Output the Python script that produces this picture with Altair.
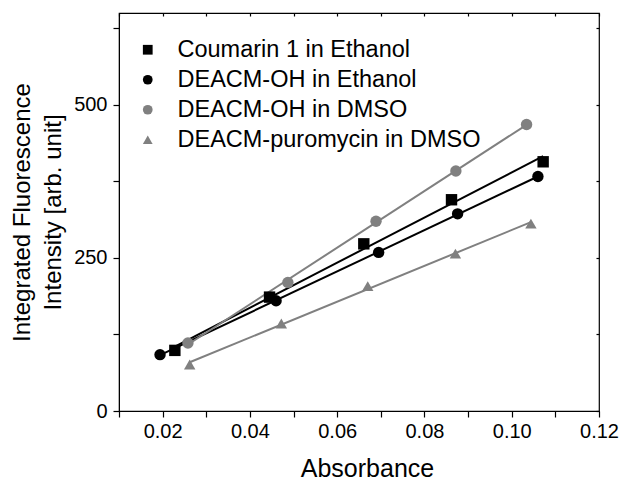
import altair as alt
import pandas as pd

series_names = ["Coumarin 1 in Ethanol", "DEACM-OH in Ethanol",
                "DEACM-OH in DMSO", "DEACM-puromycin in DMSO"]

coumarin_x = [0.0228, 0.0445, 0.0661, 0.0862, 0.1072]
coumarin_y = [99, 186, 273, 345, 407]
deacm_eth_x = [0.0194, 0.0460, 0.0695, 0.0876, 0.1060]
deacm_eth_y = [92, 180, 259, 322, 383]
deacm_dmso_x = [0.0258, 0.0487, 0.0689, 0.0872, 0.1034]
deacm_dmso_y = [111, 210, 310, 392, 468]
puro_x = [0.0262, 0.0472, 0.0670, 0.0871, 0.1044]
puro_y = [76, 143, 204, 257, 306]

x_ticks = [0.01, 0.02, 0.03, 0.04, 0.05, 0.06, 0.07, 0.08, 0.09, 0.10, 0.11, 0.12]
y_ticks = [0, 125, 250, 375, 500, 625]

rows = []
for name, xs, ys in zip(series_names,
                        [coumarin_x, deacm_eth_x, deacm_dmso_x, puro_x],
                        [coumarin_y, deacm_eth_y, deacm_dmso_y, puro_y]):
    for a, b in zip(xs, ys):
        rows.append({"series": name, "x": a, "y": b})
df = pd.DataFrame(rows)

FONT = "Liberation Sans"
colors = ["#000000", "#000000", "#808080", "#808080"]
shapes = ["square", "circle", "circle", "triangle-up"]

xscale = alt.Scale(domain=[0.01, 0.12], nice=False, zero=False)
yscale = alt.Scale(domain=[0, 650], nice=False)

xaxis = alt.Axis(values=x_ticks, format=".2f",
                 labelExpr="(round(datum.value*100) % 2 == 0) ? datum.label : ''",
                 labelFontSize=20, labelFont=FONT, labelColor="black",
                 title="Absorbance", titleFontSize=25, titleFont=FONT,
                 titleFontWeight="normal", titleColor="black", titlePadding=15,
                 titleX=248,
                 tickSize=6, tickColor="black", tickWidth=1.2,
                 domainColor="black", grid=False, labelPadding=4,
                 labelFlush=False)
yaxis = alt.Axis(values=y_ticks,
                 labelExpr="(datum.value % 250 == 0) ? datum.label : ''",
                 labelFontSize=20, labelFont=FONT, labelColor="black",
                 title=["Integrated Fluorescence", "Intensity [arb. unit]"],
                 titleFontSize=24, titleFont=FONT, titleFontWeight="normal",
                 titleColor="black", titlePadding=8, titleLineHeight=31,
                 tickSize=6, tickColor="black", tickWidth=1.2,
                 domainColor="black", grid=False, labelPadding=6,
                 labelFlush=False)

legend = alt.Legend(title=None, orient="none", legendX=17, legendY=25,
                    labelFontSize=23.5, labelFont=FONT, labelColor="black",
                    labelLimit=0,
                    symbolSize=95, labelOffset=18, rowPadding=5,
                    symbolStrokeWidth=0, symbolOpacity=1)
color_enc = alt.Color("series:N", scale=alt.Scale(domain=series_names, range=colors),
                      legend=legend)
shape_enc = alt.Shape("series:N", scale=alt.Scale(domain=series_names, range=shapes),
                      legend=legend)

base = alt.Chart(df)

fit = base.transform_regression("x", "y", groupby=["series"]).mark_line(strokeWidth=2).encode(
    x=alt.X("x:Q", scale=xscale, axis=xaxis),
    y=alt.Y("y:Q", scale=yscale, axis=yaxis),
    color=color_enc,
    detail="series:N",
)

pts = base.mark_point(filled=True, size=130, opacity=1).encode(
    x=alt.X("x:Q", scale=xscale, axis=None),
    y=alt.Y("y:Q", scale=yscale, axis=None),
    color=color_enc,
    shape=shape_enc,
)

mirror = base.mark_point(opacity=0).encode(
    x=alt.X("x:Q", scale=xscale,
            axis=alt.Axis(orient="top", values=x_ticks, labels=False, title=None,
                          tickSize=3, offset=-3, domain=False, tickColor="black",
                          tickWidth=1.2, grid=False)),
    y=alt.Y("y:Q", scale=yscale,
            axis=alt.Axis(orient="right", values=y_ticks, labels=False, title=None,
                          tickSize=3, offset=-3, domain=False, tickColor="black",
                          tickWidth=1.2, grid=False)),
)

chart = alt.layer(fit, pts, mirror).resolve_axis(x="independent", y="independent").properties(
    width=480, height=398,
    autosize=alt.AutoSizeParams(type="none"),
    padding={"left": 119, "top": 13, "right": 39, "bottom": 71},
    background="white",
).configure_view(stroke="black", strokeWidth=1.2)

chart.save("out.html", embed_options={"renderer": "svg", "actions": False})
